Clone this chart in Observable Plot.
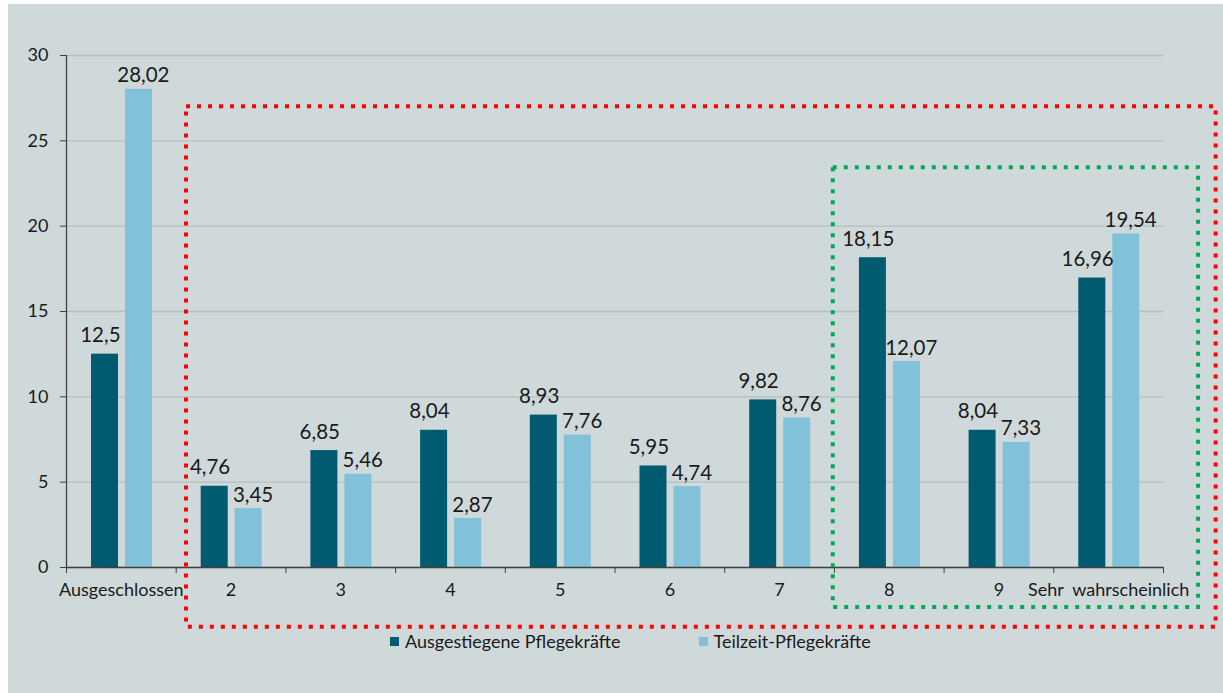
<!DOCTYPE html>
<html>
<head>
<meta charset="utf-8">
<script src="https://cdn.jsdelivr.net/npm/d3@7"></script>
<script src="https://cdn.jsdelivr.net/npm/@observablehq/plot@0.6"></script>
<style>
  html, body { margin: 0; padding: 0; background: #ffffff; }
  #wrap { position: absolute; left: 8px; top: 4px; width: 1215px; height: 689px; background: #d0d9da; font-family: Lato, "Open Sans", sans-serif; color: #1a1a1a; }
  #chart { position: absolute; left: 0; top: 0; }
  #legend { position: absolute; left: 382px; top: 626px; display: flex; gap: 0; font-size: 18px; line-height: 22px; }
  .item { display: flex; align-items: center; }
  .sw { width: 9px; height: 9px; margin-right: 6px; }
  #chart svg text { white-space: pre; }
</style>
</head>
<body>
<div id="wrap"><div id="chart"></div><div id="legend"></div></div>
<script>
const categories = ["Ausgeschlossen", "2", "3", "4", "5", "6", "7", "8", "9", "Sehr  wahrscheinlich"];
const seriesNames = ["Ausgestiegene Pflegekräfte", "Teilzeit-Pflegekräfte"];
const ausgestiegene = [12.5, 4.76, 6.85, 8.04, 8.93, 5.95, 9.82, 18.15, 8.04, 16.96];
const teilzeit = [28.02, 3.45, 5.46, 2.87, 7.76, 4.74, 8.76, 12.07, 7.33, 19.54];
const yTicks = [0, 5, 10, 15, 20, 25, 30];
const colors = ["#005b70", "#82c1da"];
// highlight boxes in data units (x: category index, y: value)
const highlightRed = [{x1: 1.094, x2: 10.48, y1: -3.5, y2: 27.0}];
const highlightGreen = [{x1: 6.99, x2: 10.32, y1: -2.34, y2: 23.43}];

const fmt = v => String(v).replace(".", ",");
const rowsA = ausgestiegene.map((v, i) => ({i, value: v, label: fmt(v)}));
const rowsT = teilzeit.map((v, i) => ({i, value: v, label: fmt(v)}));

const W = 1215, H = 630;
const step = (W - 58 - 60) / categories.length;

const chart = Plot.plot({
  width: W,
  height: H,
  marginLeft: 58,
  marginRight: 60,
  marginTop: 51,
  marginBottom: 67,
  style: {background: "transparent", fontFamily: "Lato, 'Open Sans', sans-serif", color: "#1a1a1a", overflow: "visible"},
  x: {type: "linear", domain: [0, categories.length]},
  y: {domain: [0, 30]},
  marks: [
    Plot.gridY(yTicks, {stroke: "#b4bfc0", strokeOpacity: 1, strokeWidth: 1.3}),
    Plot.rectY(rowsA, {x1: d => d.i, x2: d => d.i + 1, y: "value", fill: colors[0], insetLeft: 25, insetRight: step - 52}),
    Plot.rectY(rowsT, {x1: d => d.i, x2: d => d.i + 1, y: "value", fill: colors[1], insetLeft: 59, insetRight: step - 86}),
    Plot.text(rowsA, {x: d => d.i + 0.5, y: "value", text: "label", dx: -21, dy: -12, lineAnchor: "bottom", fontSize: 20.5, fill: "#1a1a1a"}),
    Plot.text(rowsT, {x: d => d.i + 0.5, y: "value", text: "label", dx: 22, dy: -7, lineAnchor: "bottom", fontSize: 20.5, fill: "#1a1a1a"}),
    Plot.ruleY([0], {stroke: "#404040", strokeWidth: 1.3}),
    Plot.ruleX([0], {y1: 0, y2: 30, stroke: "#404040", strokeWidth: 1.3}),
    Plot.axisY({ticks: yTicks, tickSize: 6, tickPadding: 12, fontSize: 18, stroke: "#404040", label: null, tickFormat: d => String(d)}),
    Plot.axisX({ticks: d3.range(categories.length + 1), tickSize: 6, tickFormat: () => "", label: null, stroke: "#404040"}),
    Plot.axisX({ticks: d3.range(categories.length).map(i => i + 0.5), tickSize: 0, tickPadding: 16, fontSize: 18, label: null, tickFormat: d => categories[Math.floor(d)]}),
    Plot.rect(highlightRed, {x1: "x1", x2: "x2", y1: "y1", y2: "y2", fill: "none", stroke: "#ff0000", strokeWidth: 4, strokeDasharray: "4,7"}),
    Plot.rect(highlightGreen, {x1: "x1", x2: "x2", y1: "y1", y2: "y2", fill: "none", stroke: "#00a859", strokeWidth: 4, strokeDasharray: "4,7"})
  ]
});
document.getElementById("chart").appendChild(chart);

const legend = document.getElementById("legend");
seriesNames.forEach((name, k) => {
  const item = document.createElement("div");
  item.className = "item";
  if (k > 0) item.style.marginLeft = "78px";
  const sw = document.createElement("div");
  sw.className = "sw";
  sw.style.background = colors[k];
  const t = document.createElement("span");
  t.textContent = name;
  item.appendChild(sw);
  item.appendChild(t);
  legend.appendChild(item);
});
</script>
</body>
</html>
